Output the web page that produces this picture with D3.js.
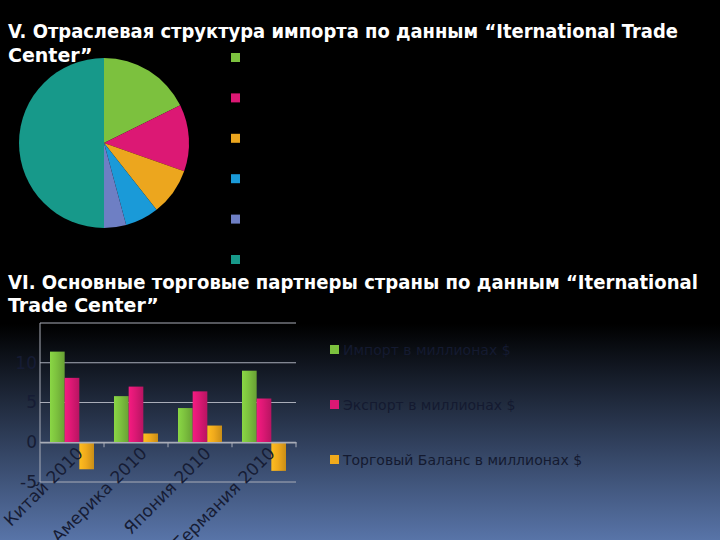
<!doctype html>
<html lang="ru">
<head>
<meta charset="UTF-8" />
<script src="https://d3js.org/d3.v7.min.js"></script>
<style>
  body { margin: 0; background: #000; }
  svg { display: block; }
  .title { fill: #fff; font-family: "DejaVu Sans", sans-serif; font-weight: bold; font-size: 19px; }
  .axis text { fill: #161c34; font-family: "DejaVu Sans", sans-serif; font-size: 17px; }
  .legend text { fill: #141a30; font-family: "DejaVu Sans", sans-serif; font-size: 14px; }
</style>
</head>
<body>
<svg id="chart" width="720" height="540"></svg>
<script>
// pie: отраслевая структура импорта (shares, %)
const pieShares = [17.7, 12.7, 9.0, 6.4, 4.2, 50.0];
const pieColors = ["#7cc13e", "#dc1874", "#eca61e", "#1a9ad8", "#6e7fc4", "#17998a"];

// bars: торговые партнеры
const partners = ["Китай 2010", "Америка 2010", "Япония 2010", "Германия 2010"];
const seriesNames = ["Импорт в миллионах $", "Экспорт в миллионах $", "Торговый Баланс в миллионах $"];
const importVals = [11.4, 5.8, 4.3, 9.0];
const exportVals = [8.1, 7.0, 6.4, 5.5];
const balanceVals = [-3.4, 1.1, 2.1, -3.6];
const yTicks = [-5, 0, 5, 10, 15];
const barColors = ["#7cc13e", "#dc1874", "#f0aa1c"];

const svg = d3.select("#chart");
const W = 720, H = 540;

// background gradient
const defs = svg.append("defs");
const bg = defs.append("linearGradient").attr("id", "bg").attr("x1", 0).attr("y1", 0).attr("x2", 0).attr("y2", 1);
bg.append("stop").attr("offset", "0%").attr("stop-color", "#000");
bg.append("stop").attr("offset", "60%").attr("stop-color", "#000");
bg.append("stop").attr("offset", "100%").attr("stop-color", "#5874a8");
svg.append("rect").attr("width", W).attr("height", H).attr("fill", "url(#bg)");

// bar shading gradients
barColors.forEach((c, i) => {
  const g = defs.append("linearGradient").attr("id", "bar" + i);
  g.append("stop").attr("offset", "0%").attr("stop-color", d3.color(c).brighter(0.3));
  g.append("stop").attr("offset", "45%").attr("stop-color", c);
  g.append("stop").attr("offset", "100%").attr("stop-color", d3.color(c).darker(0.5));
});

// titles
const t1 = svg.append("text").attr("class", "title");
t1.append("tspan").attr("x", 8).attr("y", 38).attr("textLength", 670).attr("lengthAdjust", "spacingAndGlyphs")
  .text("V. Отраслевая структура импорта по данным “Iternational Trade");
t1.append("tspan").attr("x", 8).attr("y", 62).text("Center”");

const t2 = svg.append("text").attr("class", "title");
t2.append("tspan").attr("x", 8).attr("y", 289).attr("textLength", 690).attr("lengthAdjust", "spacingAndGlyphs")
  .text("VI. Основные торговые партнеры страны по данным “Iternational");
t2.append("tspan").attr("x", 8).attr("y", 312).text("Trade Center”");

// pie
const pie = d3.pie().sort(null)(pieShares);
const arc = d3.arc().innerRadius(0).outerRadius(85);
svg.append("g").attr("transform", "translate(104,143)")
  .selectAll("path").data(pie).join("path")
  .attr("d", arc)
  .attr("fill", (d, i) => pieColors[i]);

svg.append("g").selectAll("rect").data(pieColors).join("rect")
  .attr("x", 231).attr("y", (d, i) => 53 + i * 40.4)
  .attr("width", 9).attr("height", 9)
  .attr("fill", d => d);

// bar chart
const x0 = d3.scaleBand().domain(partners).range([40, 296]);
const x1 = d3.scaleBand().domain(seriesNames).range([10, 54]);
const y = d3.scaleLinear().domain([-5, 15]).range([482, 323]);
const values = [importVals, exportVals, balanceVals];

const gAxis = svg.append("g").attr("class", "axis");
gAxis.append("g").selectAll("line").data(yTicks).join("line")
  .attr("x1", 40).attr("x2", 296)
  .attr("y1", d => y(d)).attr("y2", d => y(d))
  .attr("stroke", "#a9adb8").attr("stroke-width", 1);
gAxis.append("line").attr("x1", 40).attr("x2", 40).attr("y1", y(15)).attr("y2", y(-5))
  .attr("stroke", "#a9adb8");
gAxis.append("g").selectAll("text").data(yTicks.filter(d => d < 15)).join("text")
  .attr("x", 37).attr("y", d => y(d)).attr("dy", "0.35em").attr("text-anchor", "end")
  .text(d => d);

const groups = svg.append("g").selectAll("g").data(partners).join("g")
  .attr("transform", d => `translate(${x0(d)},0)`);
groups.selectAll("rect").data((p, pi) => seriesNames.map((s, si) => ({ s, si, v: values[si][pi] })))
  .join("rect")
  .attr("x", d => x1(d.s))
  .attr("width", x1.bandwidth())
  .attr("y", d => y(Math.max(0, d.v)))
  .attr("height", d => Math.abs(y(d.v) - y(0)))
  .attr("fill", d => `url(#bar${d.si})`);

// x axis line + separator ticks at zero
const xAxis = svg.append("g").attr("class", "axis").attr("transform", `translate(0,${y(0)})`)
  .call(d3.axisBottom(x0).tickSize(0).tickFormat(""));
xAxis.select(".domain").attr("stroke", "#a9adb8").attr("stroke-width", 1.5);
xAxis.selectAll(".tick").remove();
xAxis.selectAll("line.sep").data(partners).join("line")
  .attr("class", "sep")
  .attr("x1", d => x0(d) + x0.bandwidth()).attr("x2", d => x0(d) + x0.bandwidth())
  .attr("y1", 0).attr("y2", 5).attr("stroke", "#a9adb8");

svg.append("g").attr("class", "axis").selectAll("text").data(partners).join("text")
  .attr("transform", d => `translate(${x0(d) + x0.bandwidth() / 2 + 12},${y(0) + 12}) rotate(-45)`)
  .attr("text-anchor", "end")
  .style("font-size", "17px")
  .text(d => d);

// legend
const legend = svg.append("g").attr("class", "legend").selectAll("g").data(seriesNames).join("g")
  .attr("transform", (d, i) => `translate(330,${350 + i * 55})`);
legend.append("rect").attr("width", 9).attr("height", 9).attr("y", -5)
  .attr("fill", (d, i) => barColors[i]);
legend.append("text").attr("x", 13).attr("dy", "0.35em").text(d => d);
</script>
</body>
</html>
